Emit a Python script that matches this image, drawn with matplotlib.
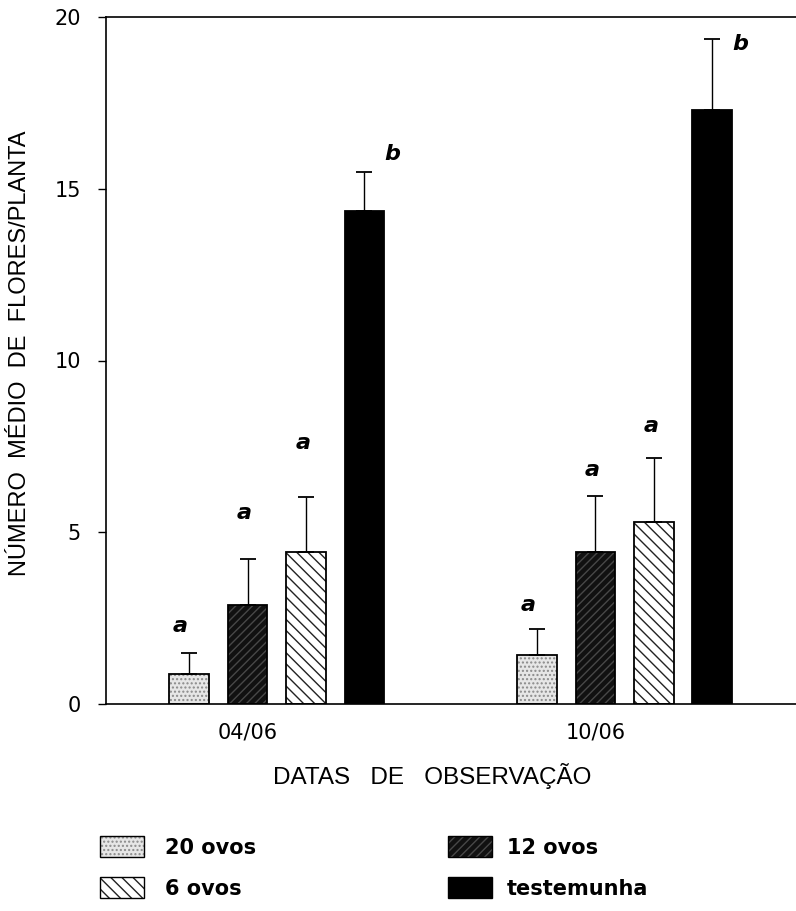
import matplotlib
matplotlib.use("Agg")
import matplotlib.pyplot as plt
import numpy as np
from matplotlib.patches import Rectangle

# ---- data ----
dates = ["04/06", "10/06"]
treatments = ["20 ovos", "12 ovos", "6 ovos", "testemunha"]
means = {
    "20 ovos":    [0.88, 1.43],
    "12 ovos":    [2.88, 4.42],
    "6 ovos":     [4.42, 5.30],
    "testemunha": [14.35, 17.29],
}
errors = {
    "20 ovos":    [0.60, 0.75],
    "12 ovos":    [1.35, 1.64],
    "6 ovos":     [1.62, 1.86],
    "testemunha": [1.14, 2.07],
}
letters = {
    "20 ovos":    ["a", "a"],
    "12 ovos":    ["a", "a"],
    "6 ovos":     ["a", "a"],
    "testemunha": ["b", "b"],
}
letter_y = {
    "20 ovos":    [2.27, 2.88],
    "12 ovos":    [5.56, 6.80],
    "6 ovos":     [7.60, 8.10],
    "testemunha": [16.0, 19.2],
}
yticks = [0, 5, 10, 15, 20]

label_font = ["Liberation Sans", "DejaVu Sans"]

fig = plt.figure(figsize=(7.96, 9.11), dpi=100)
ax = fig.add_axes([106/796, 207/911, 690/796, 687/911])

group_x = np.array([0.0, 5.95])
width = 0.68

styles = {
    "20 ovos":    dict(face="#e6e6e6", hatch="....", hcol="#8a8a8a"),
    "12 ovos":    dict(face="#111111", hatch="////", hcol="#484848"),
    "6 ovos":     dict(face="white", hatch="\\\\\\", hcol="#222222"),
    "testemunha": dict(face="black", hatch=None, hcol="black"),
}

plt.rcParams['hatch.linewidth'] = 1.0
for i, t in enumerate(treatments):
    xs = group_x + i
    st = styles[t]
    ax.bar(xs, means[t], width=width, color=st["face"], edgecolor=st["hcol"],
           hatch=st["hatch"], linewidth=0, zorder=2)
    ax.bar(xs, means[t], width=width, fill=False, edgecolor="black",
           linewidth=1.3, zorder=3)
    ax.errorbar(xs, means[t], yerr=[np.zeros(2), errors[t]], fmt="none",
                ecolor="black", elinewidth=1.0, capsize=6, capthick=1.3, zorder=4)
    dx = 0.48 if t == "testemunha" else (-0.15 if i == 0 else -0.05)
    for k in range(2):
        ax.text(xs[k] + dx, letter_y[t][k], letters[t][k], ha="center", va="center",
                fontsize=16, fontweight="bold", fontstyle="italic", color="black")

ax.set_xlim(-1.42, 10.38)
ax.set_ylim(0, 20)
ax.set_yticks(yticks)
ax.set_yticklabels([str(v) for v in yticks], fontsize=15)
ax.set_xticks(group_x + 1)
ax.set_xticklabels(dates, fontsize=15)
ax.tick_params(axis="x", length=0, pad=13)
ax.tick_params(axis="y", direction="out", length=6, pad=12, width=1)
ax.spines["right"].set_visible(False)
for s in ["left", "top", "bottom"]:
    ax.spines[s].set_linewidth(1.2)

ax.set_ylabel("NÚMERO  MÉDIO  DE  FLORES/PLANTA", fontsize=17, family=label_font)
ax.yaxis.set_label_coords(-0.108, 0.511)
fig.text(432/796, 1 - 776/911, "DATAS   DE   OBSERVAÇÃO", fontsize=17.5, family=label_font,
         ha="center", va="center")

# ---- legend ----
leg_items = [("20 ovos", 100, 836, 165), ("12 ovos", 448, 836, 507),
             ("6 ovos", 100, 877, 165), ("testemunha", 448, 877, 507)]
for name, px, py, tx in leg_items:
    st = styles[name]
    x0, y0 = px / 796, 1 - (py + 21) / 911
    w, h = 44 / 796, 21 / 911
    fig.add_artist(Rectangle((x0, y0), w, h, transform=fig.transFigure,
                             facecolor=st["face"], edgecolor=st["hcol"],
                             hatch=st["hatch"], linewidth=0))
    fig.add_artist(Rectangle((x0, y0), w, h, transform=fig.transFigure,
                             fill=False, edgecolor="black", linewidth=1.0))
    fig.text(tx / 796, 1 - (py + 12) / 911, name, fontsize=15,
             fontweight="bold", ha="left", va="center")

fig.savefig("out.png", dpi=100)
